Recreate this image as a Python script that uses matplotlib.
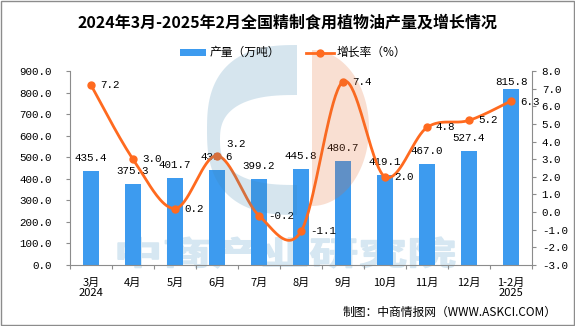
import numpy as np
import matplotlib
matplotlib.use("Agg")
import matplotlib.pyplot as plt
from matplotlib.patches import Rectangle, Polygon, PathPatch
from matplotlib.textpath import TextPath
from matplotlib.font_manager import FontProperties
from matplotlib.transforms import Affine2D
from matplotlib.lines import Line2D

# ---- data ----
months = ["3月\n2024", "4月", "5月", "6月", "7月", "8月", "9月",
          "10月", "11月", "12月", "1-2月\n2025"]
output = [435.4, 375.3, 401.7, 438.6, 399.2, 445.8, 480.7,
          419.1, 467.0, 527.4, 815.8]
growth = [7.2, 3.0, 0.2, 3.2, -0.2, -1.1, 7.4, 2.0, 4.8, 5.2, 6.3]
left_ticks = np.arange(0, 901, 100)
right_ticks = np.arange(-3, 9, 1)

title = "2024年3月-2025年2月全国精制食用植物油产量及增长情况"
legend_bar = "产量（万吨）"
legend_line = "增长率（%）"
source = "制图：中商情报网（WWW.ASKCI.COM）"
watermark = "中商产业研究院"

# ---- style ----
W, H = 575, 326
bar_color = "#3D9BEF"
line_color = "#FF6A1F"
axis_color = "#8C8C8C"
cjk = ["Noto Sans CJK SC", "DejaVu Sans"]
num_font = ["Liberation Mono", "DejaVu Sans Mono"]
plt.rcParams["font.family"] = cjk

fig = plt.figure(figsize=(W / 100, H / 100), dpi=100)

# background layer (pixel coordinates) for the text watermark
bg = fig.add_axes([0, 0, 1, 1], zorder=0)
bg.set_xlim(0, W)
bg.set_ylim(H, 0)
bg.axis("off")

fp = FontProperties(family="Noto Sans CJK SC", weight="bold")
tp = TextPath((0, 0), watermark, size=1, prop=fp)
bb = tp.get_extents()
x0, x1, ytop, ybot = 118, 455, 237, 268
tr = (Affine2D().translate(-bb.x0, -bb.y0)
      .scale((x1 - x0) / bb.width, -(ybot - ytop) / bb.height)
      .translate(x0, ybot))
bg.add_patch(PathPatch(tr.transform_path(tp), facecolor="#D6E7F2",
                       edgecolor="#D6E7F2", lw=1.0))

# main axes
ax = fig.add_axes([70 / W, 1 - 265 / H, 462 / W, 194 / H])
ax.set_zorder(2)
ax.patch.set_visible(False)
ax2 = ax.twinx()
ax2.set_zorder(3)
ax2.patch.set_visible(False)

x = np.arange(len(months))
ax.bar(x, output, width=0.36, color=bar_color, zorder=2)
ax.set_xlim(-0.5, len(months) - 0.5)
ax.set_ylim(0, 900)
ax.set_yticks(left_ticks)
ax.set_yticklabels([f"{v:.1f}" for v in left_ticks], family=num_font,
                   fontsize=7.8)

ax.set_xticks(np.arange(-0.5, len(months), 1))
ax.set_xticklabels([])
ax.set_xticks(x, minor=True)
ax.set_xticklabels(months, minor=True, fontsize=8, linespacing=1.1)
ax.tick_params(axis="x", which="major", direction="out", length=3,
               color=axis_color, width=0.8)
ax.tick_params(axis="x", which="minor", length=0, pad=9)
ax.tick_params(axis="y", direction="out", length=3, color=axis_color,
               width=0.8, pad=10)

ax2.set_ylim(-3, 8)
ax2.set_yticks(right_ticks)
ax2.set_yticklabels([f"{v:.1f}" for v in right_ticks], family=num_font,
                    fontsize=7.8)
ax2.tick_params(axis="y", direction="out", length=3, color=axis_color,
                width=0.8, pad=4)

for a in (ax, ax2):
    for s in a.spines.values():
        s.set_color(axis_color)
        s.set_linewidth(0.8)
    a.spines["top"].set_visible(False)
ax.spines["right"].set_visible(False)
ax2.spines["left"].set_visible(False)
ax2.spines["bottom"].set_visible(False)

# bar value labels
bar_offsets = [13] * (len(output) - 1) + [7]
for i, (v, off) in enumerate(zip(output, bar_offsets)):
    ax.annotate(f"{v:.1f}", (i, v), xytext=(0, off),
                textcoords="offset pixels", ha="center", va="center",
                family=num_font, fontsize=7.8, zorder=4)

# smoothed growth line (Catmull-Rom / Bezier)
px = np.asarray(x, dtype=float)
py = np.asarray(growth, dtype=float)
P = np.column_stack([px, py])
Pext = np.vstack([P[0], P, P[-1]])
curve = []
t = np.linspace(0, 1, 40)[:, None]
for i in range(len(P) - 1):
    p0, p1, p2, p3 = Pext[i], Pext[i + 1], Pext[i + 2], Pext[i + 3]
    b1 = p1 + (p2 - p0) / 6
    b2 = p2 - (p3 - p1) / 6
    seg = ((1 - t) ** 3) * p1 + 3 * ((1 - t) ** 2) * t * b1 \
        + 3 * (1 - t) * t ** 2 * b2 + t ** 3 * p2
    curve.append(seg)
curve = np.vstack(curve)
ax2.plot(curve[:, 0], curve[:, 1], color=line_color, lw=2.0,
         solid_capstyle="round", zorder=3)
ax2.plot(px, py, "o", color=line_color, ms=5, zorder=4)

line_offsets = [(9, 0)] * len(growth)
line_offsets[3] = (9, 12)
line_offsets[10] = (9, -1)
for i, (v, off) in enumerate(zip(growth, line_offsets)):
    ax2.annotate(f"{v:.1f}", (i, v), xytext=off,
                 textcoords="offset pixels", ha="left", va="center",
                 family=num_font, fontsize=7.8, zorder=5)

# overlay layer (pixel coordinates): logo, title, legend, source, frame
ov = fig.add_axes([0, 0, 1, 1], zorder=5)
ov.set_xlim(0, W)
ov.set_ylim(H, 0)
ov.axis("off")
ov.patch.set_visible(False)


def half_superellipse(cx, cy, a, b, n, side, start, stop, num=90):
    """Points on the left (side=-1) or right (side=+1) half of a superellipse."""
    th = np.linspace(start, stop, num)
    s, c = np.sin(th), np.cos(th)
    xs = cx + side * a * np.sign(s) * np.abs(s) ** (2 / n)
    ys = cy - b * np.sign(c) * np.abs(c) ** (2 / n)
    return np.column_stack([xs, ys])


# logo: blue crescent on the left, salmon half-ellipse on the right
outer = half_superellipse(297, 130, 90, 85, 2.6, -1, 0, np.pi)
inner = half_superellipse(297, 140, 77, 45, 2.6, -1, np.pi, 0)
blue_pts = np.vstack([outer, inner])
ov.add_patch(Polygon(blue_pts, closed=True, facecolor="#3F87B3",
                     edgecolor="none", alpha=0.21))
sal = half_superellipse(312, 128, 57, 78, 2.0, 1, 0, np.pi)
ov.add_patch(Polygon(sal, closed=True, facecolor="#E36B2F",
                     edgecolor="none", alpha=0.21))

ov.text(287, 22, title, ha="center", va="center", fontsize=11.5,
        fontweight="bold")

ov.add_patch(Rectangle((180, 49), 26, 7, facecolor=bar_color,
                       edgecolor="none"))
ov.text(210, 52.5, legend_bar, ha="left", va="center", fontsize=8.5)
ov.add_line(Line2D([306, 334], [52.5, 52.5], color=line_color, lw=2.0))
ov.add_line(Line2D([320], [52.5], marker="o", ms=5, color=line_color))
ov.text(337, 52.5, legend_line, ha="left", va="center", fontsize=8.5)

ov.text(557, 312, source, ha="right", va="center", fontsize=8.5)

ov.add_patch(Rectangle((0.5, 0.5), W - 1.5, H - 1.5, fill=False,
                       edgecolor="#8C8C8C", lw=1.0))

fig.savefig("out.png", dpi=100)
